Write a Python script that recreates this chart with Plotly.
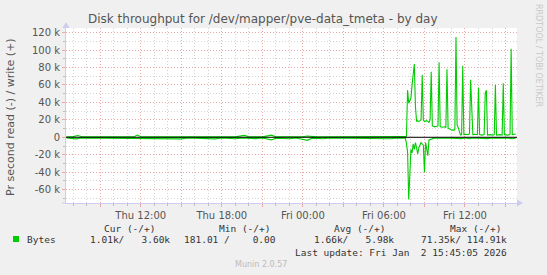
import plotly.graph_objects as go
import pandas as pd

# ---------------- data ----------------
write_times = [
    "2026-01-01 06:30", "2026-01-01 07:00", "2026-01-01 07:20", "2026-01-01 07:40",
    "2026-01-01 08:30", "2026-01-01 09:30", "2026-01-01 10:30", "2026-01-01 11:30",
    "2026-01-01 11:45", "2026-01-01 12:00", "2026-01-01 13:00", "2026-01-01 14:00",
    "2026-01-01 15:00", "2026-01-01 16:00", "2026-01-01 17:00", "2026-01-01 18:00",
    "2026-01-01 19:00", "2026-01-01 19:40", "2026-01-01 20:00", "2026-01-01 21:00",
    "2026-01-01 21:40", "2026-01-01 22:00", "2026-01-01 23:00", "2026-01-02 00:00",
    "2026-01-02 00:20", "2026-01-02 01:00", "2026-01-02 02:00", "2026-01-02 03:00",
    "2026-01-02 04:00", "2026-01-02 05:00", "2026-01-02 06:00", "2026-01-02 07:00",
    "2026-01-02 07:35", "2026-01-02 07:40", "2026-01-02 07:45", "2026-01-02 07:50",
    "2026-01-02 07:55", "2026-01-02 08:00", "2026-01-02 08:05", "2026-01-02 08:10",
    "2026-01-02 08:15", "2026-01-02 08:20", "2026-01-02 08:25", "2026-01-02 08:30",
    "2026-01-02 08:35", "2026-01-02 08:40", "2026-01-02 08:45", "2026-01-02 08:50",
    "2026-01-02 08:55", "2026-01-02 09:00", "2026-01-02 09:10", "2026-01-02 09:20",
    "2026-01-02 09:25", "2026-01-02 09:30", "2026-01-02 09:35", "2026-01-02 09:45",
    "2026-01-02 09:55", "2026-01-02 10:00", "2026-01-02 10:05", "2026-01-02 10:10",
    "2026-01-02 10:20", "2026-01-02 10:30", "2026-01-02 10:35", "2026-01-02 10:40",
    "2026-01-02 10:45", "2026-01-02 10:55", "2026-01-02 11:10", "2026-01-02 11:15",
    "2026-01-02 11:20", "2026-01-02 11:25", "2026-01-02 11:30", "2026-01-02 11:35",
    "2026-01-02 11:40", "2026-01-02 11:45", "2026-01-02 11:50", "2026-01-02 11:55",
    "2026-01-02 12:05", "2026-01-02 12:15", "2026-01-02 12:20", "2026-01-02 12:25",
    "2026-01-02 12:30", "2026-01-02 12:35", "2026-01-02 12:45", "2026-01-02 12:55",
    "2026-01-02 13:00", "2026-01-02 13:05", "2026-01-02 13:15", "2026-01-02 13:25",
    "2026-01-02 13:30", "2026-01-02 13:35", "2026-01-02 13:40", "2026-01-02 13:50",
    "2026-01-02 14:05", "2026-01-02 14:10", "2026-01-02 14:15", "2026-01-02 14:20",
    "2026-01-02 14:35", "2026-01-02 14:45", "2026-01-02 14:50", "2026-01-02 14:55",
    "2026-01-02 15:10", "2026-01-02 15:20", "2026-01-02 15:25", "2026-01-02 15:30",
    "2026-01-02 15:40", "2026-01-02 15:45",
]
write_bytes = [
    600, 800, 2000, 600,
    500, 700, 500, 600,
    2600, 600, 500, 600,
    500, 700, 500, 600,
    500, 2200, 600, 500,
    2400, 600, 500, 600,
    1500, 500, 600, 500,
    600, 500, 600, 500,
    700, 1000, 54000, 39000,
    42000, 45000, 60000, 70000,
    84000, 35000, 18000, 19000,
    18000, 19000, 20000, 71500,
    20000, 18000, 19000, 17000,
    20000, 75000, 13000, 12000,
    12500, 13000, 86000, 12000,
    11500, 12000, 11000, 78000,
    10500, 9000, 8000, 9000,
    114910, 14000, 11000, 7000,
    2500, 3000, 82000, 3000,
    3500, 3000, 4000, 66000,
    37000, 3000, 3500, 3000,
    57000, 3000, 2500, 3000,
    50500, 54000, 2500, 3000,
    2500, 3000, 60000, 2500,
    3000, 2500, 62000, 3000,
    2500, 3000, 101500, 3000,
    3500, 3600,
]

read_times = [
    "2026-01-01 06:30", "2026-01-01 07:15", "2026-01-01 07:30", "2026-01-01 08:30",
    "2026-01-01 10:00", "2026-01-01 11:00", "2026-01-01 12:00", "2026-01-01 13:00",
    "2026-01-01 14:00", "2026-01-01 15:00", "2026-01-01 15:30", "2026-01-01 16:30",
    "2026-01-01 17:30", "2026-01-01 18:00", "2026-01-01 19:00", "2026-01-01 19:30",
    "2026-01-01 20:30", "2026-01-01 21:00", "2026-01-01 21:40", "2026-01-01 22:00",
    "2026-01-01 23:00", "2026-01-01 23:30", "2026-01-02 00:20", "2026-01-02 00:40",
    "2026-01-02 01:30", "2026-01-02 02:00", "2026-01-02 03:00", "2026-01-02 04:00",
    "2026-01-02 04:30", "2026-01-02 05:30", "2026-01-02 06:30", "2026-01-02 07:00",
    "2026-01-02 07:35", "2026-01-02 07:40", "2026-01-02 07:45", "2026-01-02 07:50",
    "2026-01-02 07:55", "2026-01-02 08:00", "2026-01-02 08:05", "2026-01-02 08:10",
    "2026-01-02 08:15", "2026-01-02 08:20", "2026-01-02 08:25", "2026-01-02 08:30",
    "2026-01-02 08:35", "2026-01-02 08:45", "2026-01-02 08:55", "2026-01-02 09:00",
    "2026-01-02 09:05", "2026-01-02 09:10", "2026-01-02 09:15", "2026-01-02 09:20",
    "2026-01-02 09:30", "2026-01-02 09:45", "2026-01-02 10:00", "2026-01-02 10:30",
    "2026-01-02 11:00", "2026-01-02 11:45", "2026-01-02 12:00", "2026-01-02 12:20",
    "2026-01-02 12:35", "2026-01-02 13:00", "2026-01-02 13:40", "2026-01-02 14:00",
    "2026-01-02 14:20", "2026-01-02 14:30", "2026-01-02 15:00", "2026-01-02 15:30",
    "2026-01-02 15:45",
]
read_bytes = [
    900, 1800, 900, 1000,
    900, 1000, 900, 1000,
    900, 1800, 900, 1000,
    1800, 900, 1700, 900,
    1600, 900, 3000, 1000,
    1700, 900, 3500, 1000,
    1700, 900, 1000, 1600,
    900, 1000, 1700, 900,
    1000, 7000, 17000, 71350,
    32000, 14000, 18000, 7500,
    14000, 6000, 12000, 19000,
    12000, 6000, 9000, 40000,
    6000, 12000, 21000, 3000,
    2000, 1000, 1200, 900,
    1000, 1500, 900, 1600,
    900, 1000, 1600, 900,
    1500, 1000, 900, 1600,
    1010,
]

y_tick_vals = [-60000, -40000, -20000, 0, 20000, 40000, 60000, 80000, 100000, 120000]
y_tick_text = ["-60 k", "-40 k", "-20 k", "0", "20 k", "40 k", "60 k", "80 k", "100 k", "120 k"]
x_labels = {"2026-01-01 12:00": "Thu 12:00", "2026-01-01 18:00": "Thu 18:00",
            "2026-01-02 00:00": "Fri 00:00", "2026-01-02 06:00": "Fri 06:00",
            "2026-01-02 12:00": "Fri 12:00"}

title_text = "Disk throughput for /dev/mapper/pve-data_tmeta - by day"
ylabel_text = "Pr second read (-) / write (+)"
legend_headers = ["Cur (-/+)", "Min (-/+)", "Avg (-/+)", "Max (-/+)"]
legend_values = ["1.01k/   3.60k", "181.01 /    0.00", "1.66k/   5.98k", "71.35k/ 114.91k"]
series_name = "Bytes"
last_update = "Last update: Fri Jan  2 15:45:05 2026"

# ---------------- layout helpers ----------------
W, H = 547, 275
L, R, T, B = 66, 30, 28, 72
PW, PH = W - L - R, H - T - B

def px(x):
    return (x - L) / PW

def py(y):
    return (H - B - y) / PH

GREEN = "#00CC00"
x_start = pd.Timestamp("2026-01-01 06:28")
x_end = pd.Timestamp("2026-01-02 15:51")

major_x = pd.date_range("2026-01-01 09:00", "2026-01-02 15:00", freq="3h")
minor_x = [t for t in pd.date_range("2026-01-01 07:00", "2026-01-02 15:00", freq="1h") if t.hour % 3 != 0]
major_x_text = [x_labels.get(t.strftime("%Y-%m-%d %H:%M"), "") for t in major_x]
minor_y = [-70000, -50000, -30000, -10000, 10000, 30000, 50000, 70000, 90000, 110000]

fig = go.Figure()
fig.add_trace(go.Scatter(x=pd.to_datetime(read_times), y=[-v for v in read_bytes], mode="lines",
                         line=dict(color=GREEN, width=1.1), showlegend=False))
fig.add_trace(go.Scatter(x=pd.to_datetime(write_times), y=write_bytes, mode="lines",
                         line=dict(color=GREEN, width=1.1), showlegend=False))

grid_major = "#EAA8A8"
grid_minor = "#D4D4D4"
axis_col = "#CCCCF0"
txt = "#555555"

fig.update_layout(
    width=W, height=H,
    margin=dict(l=L, r=R, t=T, b=B),
    paper_bgcolor="#F0F0F0", plot_bgcolor="#FFFFFF",
    showlegend=False,
    font=dict(family="DejaVu Sans", size=10, color=txt),
    xaxis=dict(
        type="date", range=[x_start, x_end],
        tickmode="array", tickvals=list(major_x), ticktext=major_x_text,
        showgrid=True, gridcolor=grid_major, griddash="1px,2px", gridwidth=1,
        ticks="outside", ticklen=3, tickcolor=grid_major,
        showline=True, linecolor=axis_col, linewidth=1,
        zeroline=False,
        tickfont=dict(family="DejaVu Sans", size=10, color=txt),
        minor=dict(tickmode="array", tickvals=minor_x, showgrid=True, gridcolor=grid_minor,
                   griddash="1px,2px", ticks="outside", ticklen=2, tickcolor="#BBBBBB"),
    ),
    yaxis=dict(
        range=[-75300, 125200],
        tickmode="array", tickvals=y_tick_vals, ticktext=y_tick_text,
        showgrid=True, gridcolor=grid_major, griddash="1px,2px", gridwidth=1,
        ticks="outside", ticklen=3, tickcolor=grid_major,
        showline=True, linecolor=axis_col, linewidth=1,
        zeroline=False,
        tickfont=dict(family="DejaVu Sans", size=10, color=txt),
        minor=dict(tickmode="array", tickvals=minor_y, showgrid=True, gridcolor=grid_minor,
                   griddash="1px,2px", ticks="outside", ticklen=2, tickcolor="#BBBBBB"),
    ),
)

def tri(points):
    return "M " + " L ".join(f"{px(a):.5f},{py(b):.5f}" for a, b in points) + " Z"

shapes = [
    dict(type="line", xref="paper", yref="y", x0=0, x1=1, y0=0, y1=0,
         line=dict(color="#000000", width=1), layer="above"),
    dict(type="rect", xref="paper", yref="paper", x0=px(13), x1=px(19), y0=py(242), y1=py(236),
         fillcolor=GREEN, line=dict(width=0)),
    # axis arrows
    dict(type="path", xref="paper", yref="paper", path=tri([(517, 199.5), (523, 203), (517, 206.5)]),
         fillcolor=axis_col, line=dict(width=0), layer="above"),
    dict(type="path", xref="paper", yref="paper", path=tri([(62.5, 28), (66, 22), (69.5, 28)]),
         fillcolor=axis_col, line=dict(width=0), layer="above"),
    dict(type="line", xref="paper", yref="paper", x0=px(62), x1=px(66), y0=py(203), y1=py(203),
         line=dict(color=axis_col, width=1)),
]
fig.update_layout(shapes=shapes)

NB = "\u00a0"
mono = dict(family="DejaVu Sans Mono", size=9.5, color="#333333")
ann = []
ann.append(dict(text=title_text, x=px(262), y=py(19), xref="paper", yref="paper",
                xanchor="center", yanchor="middle", showarrow=False,
                font=dict(family="DejaVu Sans", size=12, color="#555555")))
ann.append(dict(text=ylabel_text, x=px(10), y=py(117), xref="paper", yref="paper",
                xanchor="center", yanchor="middle", showarrow=False, textangle=-90,
                font=dict(family="DejaVu Sans", size=11, color="#555555")))
ann.append(dict(text="RRDTOOL / TOBI OETIKER", x=px(538), y=py(55), xref="paper", yref="paper",
                xanchor="center", yanchor="middle", showarrow=False, textangle=90,
                font=dict(family="DejaVu Sans", size=8, color="#C8C8C8")))
ann.append(dict(text="Munin 2.0.57", x=px(261), y=py(264), xref="paper", yref="paper",
                xanchor="center", yanchor="middle", showarrow=False,
                font=dict(family="DejaVu Sans", size=8, color="#BBBBBB")))
header_right = [157, 272, 387, 503]
value_right = [172, 278, 396, 509]
for h, xr in zip(legend_headers, header_right):
    ann.append(dict(text=h.replace(" ", NB), x=px(xr), y=py(228), xref="paper", yref="paper",
                    xanchor="right", yanchor="middle", showarrow=False, font=mono))
for v, xr in zip(legend_values, value_right):
    ann.append(dict(text=v.replace(" ", NB), x=px(xr), y=py(239.5), xref="paper", yref="paper",
                    xanchor="right", yanchor="middle", showarrow=False, font=mono))
ann.append(dict(text=series_name, x=px(25), y=py(239.5), xref="paper", yref="paper",
                xanchor="left", yanchor="middle", showarrow=False, font=mono))
ann.append(dict(text=last_update.replace(" ", NB), x=px(509), y=py(252), xref="paper", yref="paper",
                xanchor="right", yanchor="middle", showarrow=False, font=mono))
fig.update_layout(annotations=ann)

fig.write_html("out.html")
